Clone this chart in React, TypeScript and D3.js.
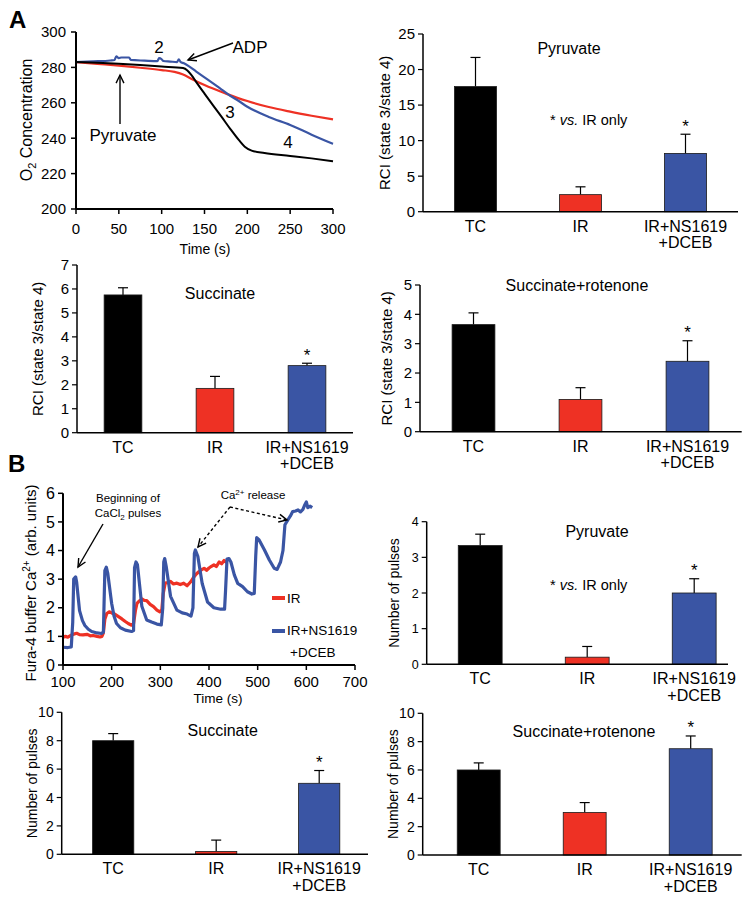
import React from "react";
import * as d3 from "d3";

// ---------- DATA ----------
const groups = ["TC", "IR", "IR+NS1619"];
const groupSecondLine = ["", "", "+DCEB"];
const barColors = ["#000000", "#EE3124", "#3A55A4"];

const rciPyruvate = [17.6, 2.4, 8.2];
const rciPyruvateErr = [4.1, 1.1, 2.7];
const rciSuccinate = [5.75, 1.85, 2.8];
const rciSuccinateErr = [0.3, 0.5, 0.1];
const rciRotenone = [3.65, 1.1, 2.4];
const rciRotenoneErr = [0.4, 0.4, 0.7];

const pulsesPyruvate = [3.33, 0.2, 2.0];
const pulsesPyruvateErr = [0.32, 0.3, 0.4];
const pulsesSuccinate = [8.0, 0.2, 5.0];
const pulsesSuccinateErr = [0.5, 0.8, 0.9];
const pulsesRotenone = [6.0, 3.0, 7.5];
const pulsesRotenoneErr = [0.5, 0.7, 0.9];

// O2 traces (time s, O2 concentration)
const o2Black: [number, number][] = [
  [0, 283], [25, 282.6], [50, 282], [75, 281.3], [100, 280.5], [125, 279.6], [130, 278.3], [135, 275.5],
  [140, 272], [150, 265.2], [160, 258.5], [170, 252], [180, 245.3], [190, 239], [197, 235.2], [205, 233],
  [220, 231.6], [250, 230], [275, 228.6], [300, 227],
];
const o2Red: [number, number][] = [
  [0, 283], [25, 282], [50, 281], [75, 279.8], [100, 278.5], [115, 277.5], [125, 276], [135, 273.5],
  [150, 270], [175, 265.2], [200, 261], [225, 257.6], [250, 255], [275, 252.7], [300, 250.6],
];
const o2Blue: [number, number][] = [
  [0, 283], [20, 283.4], [40, 283.9], [45, 284.2], [47, 286.2], [50, 285.2], [53, 285.6], [62, 285.6],
  [64, 284.2], [80, 283.8], [95, 283.5], [97, 285.2], [100, 284.6], [102, 283.6], [110, 283.3], [118, 283],
  [120, 284.6], [122, 283.1], [126, 282.3], [132, 280.6], [140, 277.8], [150, 274.4], [160, 271],
  [170, 267.5], [180, 264], [190, 261], [200, 257.8], [225, 252], [250, 247.5], [275, 242], [300, 236.8],
];

// Ca2+ traces (time s, Fura-4 signal)
const caIR: [number, number][] = [
  [100, 0.97], [105, 1.0], [110, 0.97], [117, 1.04], [122, 1.08], [128, 1.11], [134, 1.06], [141, 1.05],
  [150, 1.07], [156, 1.02], [162, 1.03], [170, 1.0], [176, 0.98], [180, 1.0], [183, 1.12], [186, 1.6],
  [190, 1.8], [195, 1.86], [200, 1.82], [207, 1.77], [214, 1.69], [221, 1.61], [228, 1.52], [234, 1.45],
  [241, 1.39], [245, 1.45], [249, 1.92], [252, 2.15], [257, 2.24], [262, 2.31], [267, 2.26], [272, 2.25],
  [279, 2.12], [286, 2.04], [293, 1.92], [299, 1.86], [303, 1.92], [306, 2.5], [310, 2.86], [315, 2.88],
  [321, 2.92], [327, 2.83], [334, 2.86], [341, 2.81], [348, 2.86], [355, 2.77], [362, 2.9], [369, 3.08],
  [374, 3.18], [379, 3.26], [385, 3.33], [390, 3.38], [395, 3.31], [400, 3.39], [405, 3.45], [410, 3.5],
  [415, 3.44], [421, 3.6], [426, 3.54], [431, 3.65], [436, 3.58],
];
const caIRNS: [number, number][] = [
  [100, 0.62], [110, 0.61], [117, 0.63], [120, 1.5], [122, 3.0], [126, 3.08], [128, 2.9], [134, 1.9],
  [140, 1.55], [145, 1.38], [152, 1.25], [159, 1.17], [170, 1.12], [179, 1.1], [183, 1.15], [186, 3.3],
  [189, 3.42], [192, 3.2], [200, 2.15], [205, 1.7], [210, 1.45], [218, 1.3], [228, 1.22], [241, 1.17],
  [245, 1.2], [247, 3.4], [250, 3.6], [253, 3.5], [262, 2.05], [272, 1.57], [282, 1.5], [293, 1.43],
  [302, 1.4], [305, 2.0], [307, 3.6], [309, 3.72], [312, 3.45], [321, 2.4], [334, 1.92], [345, 1.82],
  [355, 1.78], [363, 1.71], [367, 2.0], [370, 3.9], [372, 4.02], [377, 3.8], [386, 2.85], [397, 2.2],
  [410, 2.0], [424, 1.95], [432, 1.95], [434, 2.6], [437, 3.7], [441, 3.72], [445, 3.6], [452, 3.15],
  [459, 2.85], [469, 2.74], [479, 2.56], [488, 2.48], [493, 2.5], [496, 3.8], [498, 4.45], [503, 4.37],
  [514, 4.02], [524, 3.67], [534, 3.38], [540, 3.34], [547, 3.6], [552, 4.0], [556, 4.9], [562, 5.07],
  [567, 5.2], [572, 5.36], [578, 5.38], [583, 5.42], [588, 5.35], [593, 5.44], [597, 5.6], [600, 5.7],
  [603, 5.5], [608, 5.55], [612, 5.5],
];

const o2Ticks = [200, 220, 240, 260, 280, 300];
const timeTicksA = [0, 50, 100, 150, 200, 250, 300];
const caTicks = [0, 1, 2, 3, 4, 5, 6];
const timeTicksB = [100, 200, 300, 400, 500, 600, 700];

const FONT = "'Liberation Sans', Arial, Helvetica, sans-serif";
const RED = "#EE3124";
const BLUE = "#3A55A4";

// ---------- BAR PANEL ----------
type BarCfg = {
  values: number[];
  errs: number[];
  yMax: number;
  step: number;
  left: number;
  right: number;
  bandStart: number;
  bandEnd: number;
  top: number;
  bottom: number;
  pad: number;
  title: string;
  titleX: number;
  titleY: number;
  yLabel: string;
  yLabelX: number;
  yLabelSize: number;
  tickSize: number;
  note?: [number, number];
};

function BarPanel({ c }: { c: BarCfg }) {
  const x = d3.scaleBand<string>().domain(groups).range([c.bandStart, c.bandEnd])
    .paddingInner(c.pad).paddingOuter(c.pad / 2);
  const y = d3.scaleLinear().domain([0, c.yMax]).range([c.bottom, c.top]);
  const ticks = d3.range(0, c.yMax + 1e-9, c.step);
  const bw = x.bandwidth();
  const midY = (c.top + c.bottom) / 2;
  return (
    <g fontFamily={FONT}>
      {groups.map((g, i) => {
        const cx = (x(g) as number) + bw / 2;
        const yt = y(c.values[i] + c.errs[i]);
        return (
          <g key={g}>
            <line x1={cx} x2={cx} y1={y(c.values[i])} y2={yt} stroke="#000" strokeWidth={1.2} />
            <line x1={cx - 5} x2={cx + 5} y1={yt} y2={yt} stroke="#000" strokeWidth={1.2} />
            <rect x={x(g)} y={y(c.values[i])} width={bw} height={c.bottom - y(c.values[i])}
              fill={barColors[i]} stroke="#1a1a1a" strokeWidth={0.8} />
            <text x={cx} y={c.bottom + 20} fontSize={16} textAnchor="middle">{g}</text>
            {groupSecondLine[i] && (
              <text x={cx} y={c.bottom + 36.5} fontSize={16} textAnchor="middle">{groupSecondLine[i]}</text>
            )}
            {i === 2 && (
              <text x={cx} y={yt - 2.5} fontSize={17} textAnchor="middle">*</text>
            )}
          </g>
        );
      })}
      <line x1={c.left} x2={c.right} y1={c.bottom} y2={c.bottom} stroke="#000" strokeWidth={1.5} />
      <line x1={c.left} x2={c.left} y1={c.bottom} y2={c.top} stroke="#000" strokeWidth={1.5} />
      {ticks.map((t) => (
        <g key={t}>
          <line x1={c.left - 5} x2={c.left} y1={y(t)} y2={y(t)} stroke="#000" strokeWidth={1.2} />
          <text x={c.left - 8} y={y(t) + c.tickSize * 0.36} fontSize={c.tickSize} textAnchor="end">{t}</text>
        </g>
      ))}
      <text x={c.titleX} y={c.titleY} fontSize={16} textAnchor="middle">{c.title}</text>
      <text transform={`translate(${c.yLabelX},${midY}) rotate(-90)`} fontSize={c.yLabelSize}
        textAnchor="middle">{c.yLabel}</text>
      {c.note && (
        <text x={c.note[0]} y={c.note[1]} fontSize={14.5}>
          * <tspan fontStyle="italic">vs.</tspan> IR only
        </text>
      )}
    </g>
  );
}

function Arrow({ x1, y1, x2, y2, dashed }: { x1: number; y1: number; x2: number; y2: number; dashed?: boolean }) {
  const a = Math.atan2(y2 - y1, x2 - x1);
  const L = 9, w = 0.45;
  const p1 = [x2 - L * Math.cos(a - w), y2 - L * Math.sin(a - w)];
  const p2 = [x2 - L * Math.cos(a + w), y2 - L * Math.sin(a + w)];
  return (
    <g stroke="#000" strokeWidth={1.4} fill="none">
      <line x1={x1} y1={y1} x2={x2} y2={y2} strokeDasharray={dashed ? "3,2.5" : undefined} />
      <path d={`M${p1[0]},${p1[1]} L${x2},${y2} L${p2[0]},${p2[1]}`} />
    </g>
  );
}

function O2Panel() {
  const x = d3.scaleLinear().domain([0, 300]).range([76, 333]);
  const y = d3.scaleLinear().domain([200, 300]).range([209, 32]);
  const line = d3.line<[number, number]>().x((d) => x(d[0])).y((d) => y(d[1])).curve(d3.curveMonotoneX);
  return (
    <g fontFamily={FONT}>
      <path d={line(o2Red) as string} fill="none" stroke={RED} strokeWidth={2.2} />
      <path d={line(o2Blue) as string} fill="none" stroke={BLUE} strokeWidth={2.2} />
      <path d={line(o2Black) as string} fill="none" stroke="#000" strokeWidth={2} />
      <line x1={76} x2={333} y1={209} y2={209} stroke="#000" strokeWidth={2} />
      <line x1={76} x2={76} y1={209} y2={32} stroke="#000" strokeWidth={2} />
      {o2Ticks.map((t) => (
        <g key={t}>
          <line x1={71} x2={76} y1={y(t)} y2={y(t)} stroke="#000" strokeWidth={1.5} />
          <text x={66} y={y(t) + 5.4} fontSize={15} textAnchor="end">{t}</text>
        </g>
      ))}
      {timeTicksA.map((t) => (
        <g key={t}>
          <line x1={x(t)} x2={x(t)} y1={209} y2={214} stroke="#000" strokeWidth={1.5} />
          <text x={x(t)} y={234} fontSize={15} textAnchor="middle">{t}</text>
        </g>
      ))}
      <text x={205} y={254} fontSize={14} textAnchor="middle">Time (s)</text>
      <text transform="translate(32,120) rotate(-90)" fontSize={16} textAnchor="middle">
        O<tspan fontSize={11} dy={4}>2</tspan><tspan dy={-4}> Concentration</tspan>
      </text>
      <text x={159} y={53} fontSize={17} textAnchor="middle">2</text>
      <text x={250} y={53} fontSize={17} textAnchor="middle">ADP</text>
      <text x={230} y={118} fontSize={17} textAnchor="middle">3</text>
      <text x={288} y={148} fontSize={17} textAnchor="middle">4</text>
      <text x={123} y={141} fontSize={17} textAnchor="middle">Pyruvate</text>
      <Arrow x1={233} y1={43} x2={188} y2={60} />
      <Arrow x1={120} y1={124} x2={120} y2={75} />
      <text x={9} y={28} fontSize={24} fontWeight="bold">A</text>
    </g>
  );
}

function CaPanel() {
  const x = d3.scaleLinear().domain([100, 700]).range([63, 355]);
  const y = d3.scaleLinear().domain([0, 6]).range([665, 493.3]);
  const line = d3.line<[number, number]>().x((d) => x(d[0])).y((d) => y(d[1]));
  return (
    <g fontFamily={FONT}>
      <path d={line(caIR) as string} fill="none" stroke={RED} strokeWidth={3.2} strokeLinejoin="round" />
      <path d={line(caIRNS) as string} fill="none" stroke={BLUE} strokeWidth={3.2} strokeLinejoin="round" />
      <line x1={63} x2={355} y1={665} y2={665} stroke="#000" strokeWidth={2} />
      <line x1={63} x2={63} y1={665} y2={493.3} stroke="#000" strokeWidth={2} />
      {caTicks.map((t) => (
        <g key={t}>
          <line x1={58} x2={63} y1={y(t)} y2={y(t)} stroke="#000" strokeWidth={1.5} />
          <text x={55} y={y(t) + 5.6} fontSize={16} textAnchor="end">{t}</text>
        </g>
      ))}
      {timeTicksB.map((t) => (
        <g key={t}>
          <line x1={x(t)} x2={x(t)} y1={665} y2={670} stroke="#000" strokeWidth={1.5} />
          <text x={x(t)} y={686.5} fontSize={15} textAnchor="middle">{t}</text>
        </g>
      ))}
      <text x={218} y={703} fontSize={13.5} textAnchor="middle">Time (s)</text>
      <text transform="translate(36,583) rotate(-90)" fontSize={15} textAnchor="middle">
        Fura-4 buffer Ca<tspan fontSize={10} dy={-6}>2+</tspan><tspan dy={6}> (arb. units)</tspan>
      </text>
      <line x1={272} x2={285} y1={598} y2={598} stroke={RED} strokeWidth={4} />
      <text x={287} y={603} fontSize={13.5}>IR</text>
      <line x1={272} x2={285} y1={631} y2={631} stroke={BLUE} strokeWidth={4} />
      <text x={287} y={635} fontSize={13.5}>IR+NS1619</text>
      <text x={290} y={657} fontSize={13.5}>+DCEB</text>
      <text x={128} y={502} fontSize={11.5} textAnchor="middle">Beginning of</text>
      <text x={128} y={517} fontSize={11.5} textAnchor="middle">
        CaCl<tspan fontSize={8} dy={3}>2</tspan><tspan dy={-3}> pulses</tspan>
      </text>
      <text x={253} y={499} fontSize={11.5} textAnchor="middle">
        Ca<tspan fontSize={8} dy={-4}>2+</tspan><tspan dy={4}> release</tspan>
      </text>
      <Arrow x1={103} y1={524} x2={78} y2={567} />
      <Arrow x1={230} y1={507} x2={198} y2={547} dashed />
      <Arrow x1={230} y1={507} x2={287} y2={520} dashed />
      <text x={8} y={472} fontSize={24} fontWeight="bold">B</text>
    </g>
  );
}

const panels: BarCfg[] = [
  {
    values: rciPyruvate, errs: rciPyruvateErr, yMax: 25, step: 5, left: 423, right: 738,
    bandStart: 423, bandEnd: 738, top: 34, bottom: 211.7, pad: 0.6, title: "Pyruvate", titleX: 569, titleY: 54,
    yLabel: "RCI (state 3/state 4)", yLabelX: 390, yLabelSize: 15, tickSize: 15, note: [550, 125],
  },
  {
    values: rciSuccinate, errs: rciSuccinateErr, yMax: 7, step: 1, left: 77, right: 353,
    bandStart: 77, bandEnd: 353, top: 265, bottom: 432.7, pad: 0.59, title: "Succinate", titleX: 220, titleY: 298.5,
    yLabel: "RCI (state 3/state 4)", yLabelX: 43, yLabelSize: 15, tickSize: 15,
  },
  {
    values: rciRotenone, errs: rciRotenoneErr, yMax: 5, step: 1, left: 420, right: 741.7,
    bandStart: 420, bandEnd: 741, top: 285, bottom: 431.7, pad: 0.6, title: "Succinate+rotenone", titleX: 577, titleY: 290.5,
    yLabel: "RCI (state 3/state 4)", yLabelX: 392, yLabelSize: 15, tickSize: 15,
  },
  {
    values: pulsesPyruvate, errs: pulsesPyruvateErr, yMax: 4, step: 1, left: 426.7, right: 728,
    bandStart: 426.7, bandEnd: 747.7, top: 521.7, bottom: 664.3, pad: 0.59, title: "Pyruvate", titleX: 597, titleY: 536.5,
    yLabel: "Number of pulses", yLabelX: 399, yLabelSize: 14, tickSize: 12.5, note: [550, 590],
  },
  {
    values: pulsesSuccinate, errs: pulsesSuccinateErr, yMax: 10, step: 2, left: 61.7, right: 368,
    bandStart: 61.7, bandEnd: 370.7, top: 712.3, bottom: 854.3, pad: 0.6, title: "Succinate", titleX: 222.7, titleY: 735.5,
    yLabel: "Number of pulses", yLabelX: 36.5, yLabelSize: 14, tickSize: 14,
  },
  {
    values: pulsesRotenone, errs: pulsesRotenoneErr, yMax: 10, step: 2, left: 422.7, right: 741.7,
    bandStart: 425.7, bandEnd: 743.7, top: 713.3, bottom: 855, pad: 0.595, title: "Succinate+rotenone", titleX: 584, titleY: 737,
    yLabel: "Number of pulses", yLabelX: 397.5, yLabelSize: 14, tickSize: 14,
  },
];

export default function App() {
  return (
    <svg width={751} height={903} viewBox="0 0 751 903"
      style={{ position: "absolute", left: 0, top: 0, background: "#fff" }}>
      <rect x={0} y={0} width={751} height={903} fill="#fff" />
      <O2Panel />
      <CaPanel />
      {panels.map((c, i) => <BarPanel key={i} c={c} />)}
    </svg>
  );
}
